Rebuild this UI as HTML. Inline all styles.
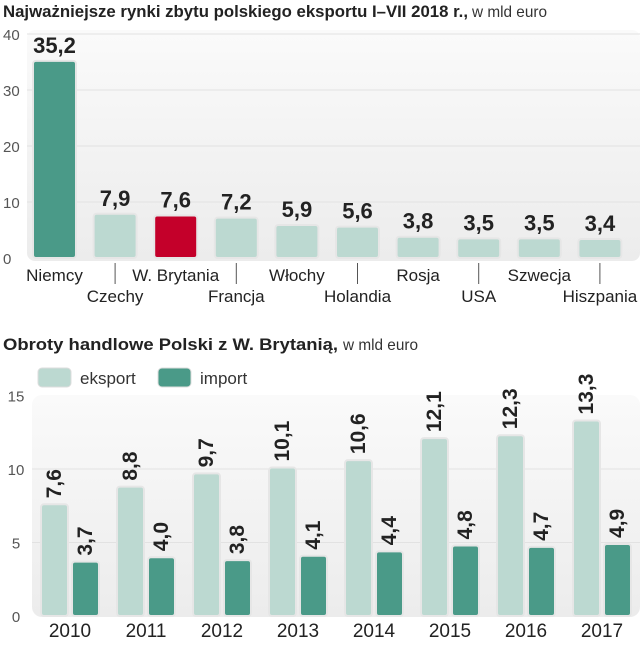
<!DOCTYPE html>
<html><head><meta charset="utf-8"><style>
body{margin:0;background:#fff;font-family:"Liberation Sans",sans-serif;}
svg text{font-family:"Liberation Sans",sans-serif;}
</style></head><body>
<svg id="c" width="643" height="640" xmlns="http://www.w3.org/2000/svg">
<defs><linearGradient id="g" x1="0" y1="0" x2="0" y2="1"><stop offset="0" stop-color="#fafafa"/><stop offset="1" stop-color="#ececec"/></linearGradient></defs>
<text x="3" y="17" font-size="17" font-weight="bold" fill="#222" textLength="465" lengthAdjust="spacingAndGlyphs">Najważniejsze rynki zbytu polskiego eksportu I–VII 2018 r.,</text>
<text x="472" y="17" font-size="16" fill="#333" textLength="75" lengthAdjust="spacingAndGlyphs">w mld euro</text>
<rect x="27" y="30" width="613" height="231" fill="url(#g)" rx="8"/>
<g id="topG"></g>
<text x="3" y="350" font-size="17" font-weight="bold" fill="#222" textLength="335" lengthAdjust="spacingAndGlyphs">Obroty handlowe Polski z W. Brytanią,</text>
<text x="343" y="350" font-size="16" fill="#333" textLength="75" lengthAdjust="spacingAndGlyphs">w mld euro</text>
<rect x="38" y="368" width="33" height="19" rx="4" fill="#bcd9d1" stroke="#ddd"/>
<text x="80" y="384" font-size="17" fill="#333">eksport</text>
<rect x="158" y="368" width="33" height="19" rx="4" fill="#4a9a88" stroke="#ddd"/>
<text x="200" y="384" font-size="17" fill="#333">import</text>
<rect x="32" y="395" width="608" height="222" fill="url(#g)" rx="10"/>
<g id="botG"></g>
</svg>
<script>
const countries=["Niemcy","Czechy","W. Brytania","Francja","Włochy","Holandia","Rosja","USA","Szwecja","Hiszpania"];
const exportValues=[35.2,7.9,7.6,7.2,5.9,5.6,3.8,3.5,3.5,3.4];
const topTicks=[0,10,20,30,40];
const years=["2010","2011","2012","2013","2014","2015","2016","2017"];
const ukExport=[7.6,8.8,9.7,10.1,10.6,12.1,12.3,13.3];
const ukImport=[3.7,4.0,3.8,4.1,4.4,4.8,4.7,4.9];
const botTicks=[0,5,10,15];
const NS="http://www.w3.org/2000/svg";
function mk(p,t,a,txt){const e=document.createElementNS(NS,t);for(const k in a)e.setAttribute(k,a[k]);if(txt!=null)e.textContent=txt;p.appendChild(e);return e;}
const fmt=v=>v.toFixed(1).replace('.',',');
const topG=document.getElementById('topG');
const y1=v=>258-v*5.6;
const x1=i=>33+i*60.6;
topTicks.forEach(t=>{
 if(t>0){const l=mk(topG,'line',{x1:27,x2:640,y1:y1(t),y2:y1(t),stroke:'#e2e2e2'});
 
 }
 const e=mk(topG,'text',{x:3,y:y1(t)+6,'font-size':15,fill:'#555'},String(t));
 
 
});
countries.forEach((c,i)=>{
 const x=x1(i),w=43,v=exportValues[i];
 const fill=i==0?'#4a9a88':(i==2?'#c4002a':'#bcd9d1');
 const r=mk(topG,'rect',{x:x,y:y1(v),width:w,height:258-y1(v),rx:3,fill:fill,stroke:'#e6e6e6','stroke-width':2});
 
 
 const t=mk(topG,'text',{x:x+w/2,y:y1(v)-8,'font-size':22,'font-weight':'bold','text-anchor':'middle',fill:'#222'},fmt(v));
 
 
 const low=i%2==1;
 const lb=mk(topG,'text',{x:x+w/2,y:low?302:281,'font-size':17,'text-anchor':'middle',fill:'#222'},c);
 
 
 if(low){const tk=mk(topG,'line',{x1:x+w/2,x2:x+w/2,y1:263,y2:284,stroke:'#555'});
 
 }
});
const botG=document.getElementById('botG');
const y2=v=>616-v*14.7;
const gx=i=>41+i*76;
botTicks.forEach(t=>{
 if(t>0&&t<15){const l=mk(botG,'line',{x1:32,x2:640,y1:y2(t),y2:y2(t),stroke:'#e2e2e2'});
 
 }
 const e=mk(botG,'text',{x:16,y:y2(t)+6,'font-size':15,fill:'#555','text-anchor':'middle'},String(t));
 
 
});
years.forEach((yr,i)=>{
 const x=gx(i);
 [[ukExport[i],'#bcd9d1',0,'export'],[ukImport[i],'#4a9a88',31,'import']].forEach(([v,f,dx,n])=>{
  const r=mk(botG,'rect',{x:x+dx,y:y2(v),width:27,height:616-y2(v),rx:3,fill:f,stroke:'#e6e6e6','stroke-width':2});
  
  
  const cx=x+dx+13.5,cy=y2(v)-6;
  const t=mk(botG,'text',{x:cx,y:cy,'font-size':21,'font-weight':'bold',fill:'#222',transform:`rotate(-90 ${cx} ${cy})`,'dominant-baseline':'central'},fmt(v));
  
  
 });
 const lb=mk(botG,'text',{x:x+29,y:637,'font-size':19,'text-anchor':'middle',fill:'#222'},yr);
 
 
});
</script>
</body></html>
